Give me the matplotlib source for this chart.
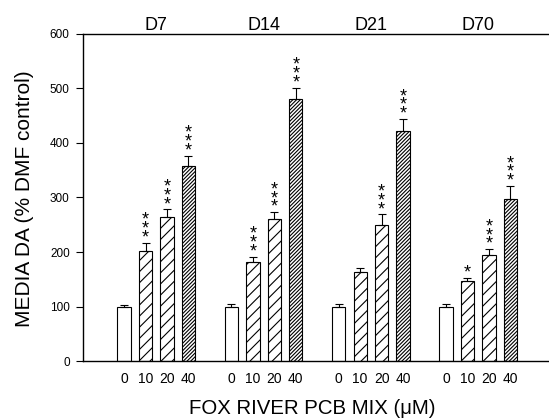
import matplotlib
matplotlib.use("Agg")
import matplotlib.pyplot as plt
import numpy as np

plt.rcParams['font.family'] = ['Liberation Sans', 'DejaVu Sans']
plt.rcParams['hatch.linewidth'] = 0.8

days = ["D7", "D14", "D21", "D70"]
doses = ["0", "10", "20", "40"]
means = [
    [100, 202, 264, 358],
    [100, 181, 260, 480],
    [100, 163, 249, 422],
    [100, 147, 194, 298],
]
errs = [
    [3, 15, 14, 19],
    [4, 10, 13, 21],
    [5, 7, 20, 22],
    [5, 6, 11, 23],
]
stars = [
    ["", "***", "***", "***"],
    ["", "***", "***", "***"],
    ["", "", "***", "***"],
    ["", "*", "***", "***"],
]
hatches = [None, "///", "///", "/////////"]

fig = plt.figure(figsize=(5.49, 4.19), dpi=100)
ax = fig.add_axes([0.151, 0.1384, 0.849, 0.7805])

group_gap = 5
width = 0.62
xs_all, labels_all = [], []
for g, day in enumerate(days):
    for i in range(4):
        x = g * group_gap + i
        xs_all.append(x)
        labels_all.append(doses[i])
        ax.bar(x, means[g][i], width=width, color="white", edgecolor="black",
               linewidth=0.8, hatch=hatches[i], zorder=2)
        ax.errorbar(x, means[g][i], yerr=[[0], [errs[g][i]]], fmt="none",
                    ecolor="black", elinewidth=0.8, capsize=3, capthick=0.8, zorder=3)
        ytop = means[g][i] + errs[g][i]
        s = stars[g][i]
        if s:
            ax.annotate("\n".join(s), xy=(x, ytop), xytext=(0, -2.6),
                        textcoords="offset points", ha="center", va="bottom",
                        fontsize=13, linespacing=0.37)
    ax.annotate(day, xy=(g * group_gap + 1.5, 1), xycoords=("data", "axes fraction"),
                xytext=(0, 3), textcoords="offset points",
                ha="center", va="baseline", fontsize=13)

ax.set_xlim(-1.92, 19.8)
ax.set_ylim(0, 600)
ax.set_yticks(np.arange(0, 601, 100))
ax.tick_params(axis="y", labelsize=8.5, direction="out", length=5, width=0.8, pad=4.5)
ax.set_xticks(xs_all)
ax.set_xticklabels(labels_all, fontsize=10)
ax.tick_params(axis="x", length=0, pad=8)
ax.spines["right"].set_visible(False)
for sp in ["left", "bottom", "top"]:
    ax.spines[sp].set_linewidth(1.0)
ax.set_ylabel("MEDIA DA (% DMF control)", fontsize=15)
ax.yaxis.set_label_coords(-0.105, 0.495)
ax.set_xlabel("FOX RIVER PCB MIX (\u03bcM)", fontsize=14.7)
ax.xaxis.set_label_coords(0.4925, -0.115)

fig.savefig("out.png", dpi=100)
